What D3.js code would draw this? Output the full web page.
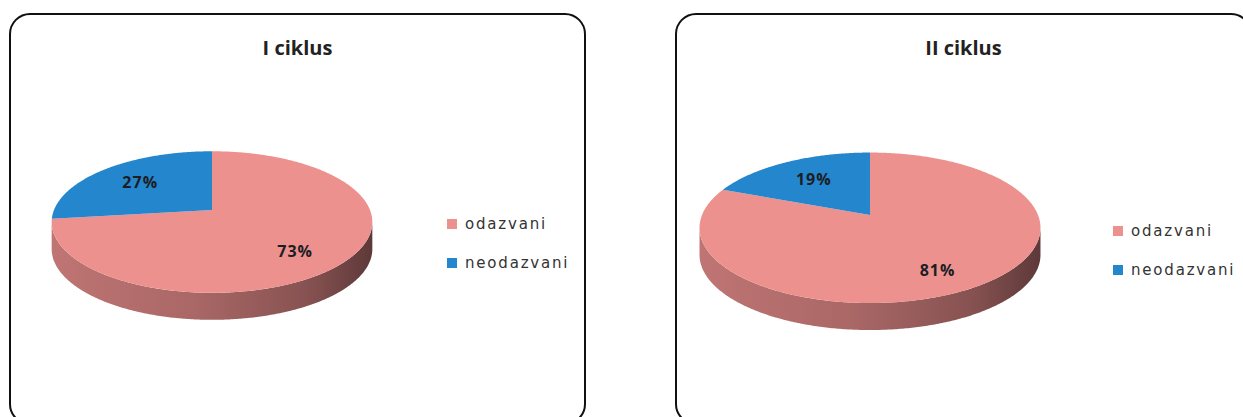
<!DOCTYPE html>
<html>
<head>
<meta charset="utf-8">
<script src="https://cdn.jsdelivr.net/npm/d3@7"></script>
<style>
  body { margin: 0; background: #fff; }
  svg { display: block; font-family: "Open Sans", sans-serif; }
</style>
</head>
<body>
<script>
var titles = ["I ciklus", "II ciklus"];
var categories = ["odazvani", "neodazvani"];
var cycle1 = [73, 27];
var cycle2 = [81, 19];
var colors = ["#ed918f", "#2486cc"];

var width = 1243, height = 417;

// panel layout (box left, pie radius, pie centre, first legend row y)
var panels = [
  {x: 10, r: 158, cx: 202, cy: 210, legendY: 224, values: cycle1, title: titles[0]},
  {x: 676, r: 168, cx: 194, cy: 215, legendY: 231, values: cycle2, title: titles[1]}
];

var boxW = 575, boxH = 410,
    tilt = 0.435, persp = 0.17, depth = 27;

var color = d3.scaleOrdinal().domain(categories).range(colors);

var svg = d3.select("body").append("svg")
    .attr("width", width)
    .attr("height", height);

var defs = svg.append("defs");

var pie = d3.pie().sort(null).value(function(d) { return d.value; });

// edge angles where the side of the disc starts/ends
var sideR = Math.acos(-persp), sideL = 2 * Math.PI - sideR;

panels.forEach(function(p, i) {
  var data = categories.map(function(c, j) { return {name: c, value: p.values[j]}; });
  var arcs = pie(data);

  var proj = function(a, f, dy) {
    var u = f * Math.sin(a), v = -f * Math.cos(a), s = 1 / (1 - persp * v);
    return [p.cx + p.r * u * s, p.cy + p.r * tilt * v * s + (dy || 0)];
  };

  var arcPts = function(a0, a1, dy) {
    var n = Math.max(2, Math.ceil((a1 - a0) / 0.01));
    return d3.range(n + 1).map(function(k) { return proj(a0 + (a1 - a0) * k / n, 1, dy); });
  };

  var g = svg.append("g").attr("transform", "translate(" + p.x + ",0)");

  g.append("rect")
      .attr("x", 0)
      .attr("y", 14)
      .attr("width", boxW)
      .attr("height", boxH)
      .attr("rx", 20)
      .attr("fill", "#fff")
      .attr("stroke", "#111")
      .attr("stroke-width", 2);

  g.append("text")
      .attr("x", boxW / 2)
      .attr("y", 55)
      .attr("text-anchor", "middle")
      .attr("font-size", 20)
      .attr("font-weight", "bold")
      .attr("fill", "#222")
      .text(p.title);

  var xl = proj(sideL, 1)[0], xr = proj(sideR, 1)[0];

  // side of the disc
  arcs.forEach(function(d, j) {
    var lo = Math.max(d.startAngle, sideR), hi = Math.min(d.endAngle, sideL);
    if (hi <= lo) return;
    var gid = "side" + i + "_" + j;
    var c = color(d.data.name);
    var grad = defs.append("linearGradient")
        .attr("id", gid)
        .attr("gradientUnits", "userSpaceOnUse")
        .attr("x1", xl).attr("x2", xr)
        .attr("y1", 0).attr("y2", 0);
    [[0, 0.6], [0.45, 0.95], [0.8, 1.6], [1, 2.6]].forEach(function(s) {
      grad.append("stop")
          .attr("offset", s[0])
          .attr("stop-color", d3.color(c).darker(s[1]));
    });
    var pts = arcPts(lo, hi, 0).concat(arcPts(lo, hi, depth).reverse());
    g.append("path")
        .attr("d", d3.line()(pts) + "Z")
        .attr("fill", "url(#" + gid + ")");
  });

  // top face
  g.selectAll(".slice")
      .data(arcs)
    .enter().append("path")
      .attr("class", "slice")
      .attr("d", function(d) {
        return d3.line()([proj(0, 0)].concat(arcPts(d.startAngle, d.endAngle, 0))) + "Z";
      })
      .attr("fill", function(d) { return color(d.data.name); });

  // percentage labels
  g.selectAll(".lbl")
      .data(arcs)
    .enter().append("text")
      .attr("class", "lbl")
      .attr("transform", function(d) {
        var a = (d.startAngle + d.endAngle) / 2,
            v = -Math.cos(a),
            pt = proj(a, 0.65, depth * 0.55 * Math.max(v, 0));
        return "translate(" + pt[0] + "," + pt[1] + ")";
      })
      .attr("text-anchor", "middle")
      .attr("dy", "0.35em")
      .attr("font-size", 16)
      .attr("font-weight", "bold")
      .attr("letter-spacing", 1)
      .attr("fill", "#1d1d24")
      .text(function(d) { return d.data.value + "%"; });

  // legend
  var leg = g.selectAll(".leg")
      .data(categories)
    .enter().append("g")
      .attr("class", "leg")
      .attr("transform", function(d, j) { return "translate(437," + (p.legendY + j * 39) + ")"; });

  leg.append("rect")
      .attr("x", 0)
      .attr("y", -5)
      .attr("width", 10)
      .attr("height", 10)
      .attr("fill", function(d) { return color(d); });

  leg.append("text")
      .attr("x", 18)
      .attr("dy", "0.35em")
      .attr("font-family", "DejaVu Sans")
      .attr("font-size", 15)
      .attr("letter-spacing", 1.8)
      .attr("fill", "#333")
      .text(function(d) { return d; });
});
</script>
</body>
</html>
